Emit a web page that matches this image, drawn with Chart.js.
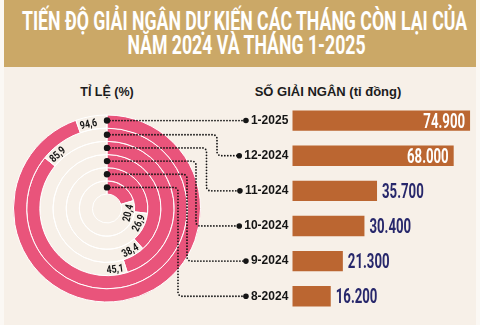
<!DOCTYPE html>
<html><head><meta charset="utf-8">
<script src="https://cdn.jsdelivr.net/npm/chart.js@4.4.1/dist/chart.umd.min.js"></script>
<style>
html,body{margin:0;padding:0;width:480px;height:325px;overflow:hidden;background:#fbf8f4;}
#panel{position:absolute;left:4px;top:0;width:472px;height:325px;background:#f7f0e8;}
#title{position:absolute;left:4px;top:0;width:472px;height:67px;background:#cba867;overflow:hidden}
.tl{position:absolute;left:0;width:472px;height:25px;color:#fff;font:700 25px Roboto,sans-serif;white-space:nowrap;line-height:25px}
.tl span{position:absolute;left:50%;top:0;display:inline-block;transform-origin:center;white-space:nowrap}
.hd{position:absolute;font:700 13px "Liberation Sans",Arial,sans-serif;color:#1c1c1c;white-space:nowrap;transform:translateX(-50%)}
.wrap{position:absolute;left:0;top:0}
</style></head>
<body>
<div id="panel"></div>
<div id="title">
 <div class="tl" style="top:8.5px"><span id="t1">TIẾN ĐỘ GIẢI NGÂN DỰ KIẾN CÁC THÁNG CÒN LẠI CỦA</span></div>
 <div class="tl" style="top:33px"><span id="t2">NĂM 2024 VÀ THÁNG 1-2025</span></div>
</div>
<div class="hd" style="left:107px;top:84.5px;font-size:12.5px">TỈ LỆ (%)</div>
<div class="hd" style="left:328px;top:84px">SỐ GIẢI NGÂN (tỉ đồng)</div>
<div class="wrap" style="width:214px;height:325px"><canvas id="donut"></canvas></div>
<div class="wrap" style="width:480px;height:325px"><canvas id="bars"></canvas></div>
<script>
// ---- data ----
const months = ['1-2025','12-2024','11-2024','10-2024','9-2024','8-2024'];
const amounts = [74.9, 68.0, 35.7, 30.4, 21.3, 16.2];
const amountLabels = ['74.900','68.000','35.700','30.400','21.300','16.200'];
const rates = [94.6, 85.9, 45.1, 38.4, 26.9, 20.4];
const rateLabels = ['94,6','85,9','45,1','38,4','26,9','20,4'];

// ---- styles ----
const PINK = '#e9547b', BAR = '#bb6631', NAVY = '#27276b', INK = '#151515';

// title condensing
(function(){
  const t1 = document.getElementById('t1'), t2 = document.getElementById('t2');
  const s = 445 / t1.offsetWidth;
  t1.style.transform = 'translateX(calc(-50% + 4.5px)) scaleX(' + s + ')';
  t2.style.transform = 'translateX(calc(-50% + 6.5px)) scaleX(' + s + ')';
})();

const ringLabelPlugin = {
  id: 'ringLabels',
  afterDatasetsDraw(chart) {
    const ctx = chart.ctx, sx = 0.8;
    ctx.save();
    ctx.font = 'bold 11px Roboto';
    ctx.fillStyle = INK;
    ctx.textAlign = 'center';
    ctx.textBaseline = 'alphabetic';
    rateLabels.forEach((t, i) => {
      const el = chart.getDatasetMeta(i).data[0];
      const r = (el.innerRadius + el.outerRadius) / 2;
      const w = ctx.measureText(t).width * sx;
      const a = el.endAngle + (2 + w / 2) / r;
      const x = el.x + r * Math.cos(a), y = el.y + r * Math.sin(a);
      let rot = a + Math.PI / 2;
      let th = ((rot % (2 * Math.PI)) + 2 * Math.PI) % (2 * Math.PI);
      if (th > Math.PI / 2 && th < 3 * Math.PI / 2) rot += Math.PI;
      ctx.save();
      ctx.translate(x, y);
      ctx.rotate(rot);
      ctx.scale(sx, 1);
      ctx.fillText(t, 0, 3.9);
      ctx.restore();
    });
    ctx.restore();
  }
};

const donut = new Chart(document.getElementById('donut'), {
  type: 'doughnut',
  data: {
    labels: ['Tỉ lệ', 'Còn lại'],
    datasets: rates.map((v, i) => ({
      label: months[i],
      data: [v, 100 - v],
      backgroundColor: [PINK, 'rgba(0,0,0,0)'],
      borderColor: '#ffffff',
      borderWidth: 1
    }))
  },
  options: {
    responsive: true, maintainAspectRatio: false, animation: false, events: [],
    radius: 93.5, cutout: '15.5%',
    layout: { padding: { top: 92 } },
    plugins: { legend: { display: false }, tooltip: { enabled: false } }
  },
  plugins: [ringLabelPlugin]
});

const TICK_FONT = 'bold 12px "Liberation Sans", Arial';
const connectorX = [null, 217, 206.5, 196, 187, 178];

const barPlugin = {
  id: 'barExtras',
  afterDatasetsDraw(chart) {
    const ctx = chart.ctx;
    const meta = chart.getDatasetMeta(0);
    const yScale = chart.scales.y;
    // value labels
    const sx = 0.66;
    ctx.save();
    ctx.font = 'bold 20px Roboto';
    meta.data.forEach((bar, i) => {
      const inside = amounts[i] >= 50;
      ctx.save();
      ctx.fillStyle = inside ? '#ffffff' : NAVY;
      ctx.textAlign = inside ? 'right' : 'left';
      ctx.translate(inside ? bar.x - 5 : bar.x + 5, bar.y + 7.1);
      ctx.scale(sx, 1);
      ctx.fillText(amountLabels[i], 0, 0);
      ctx.restore();
    });
    ctx.restore();

    // connectors
    ctx.save();
    ctx.font = TICK_FONT;
    months.forEach((m, i) => {
      const el = donut.getDatasetMeta(i).data[0];
      const r = (el.innerRadius + el.outerRadius) / 2;
      const cx = el.x, ry = el.y - r;
      const ly = yScale.getPixelForValue(i);
      const tw = ctx.measureText(m).width;
      const dotX = chart.chartArea.left - 4 - tw - 5;
      ctx.beginPath();
      ctx.setLineDash([0, 3]);
      ctx.lineCap = 'round';
      ctx.lineWidth = 1.8;
      ctx.strokeStyle = INK;
      if (connectorX[i] === null) {
        ctx.moveTo(cx, ly);
        ctx.lineTo(dotX, ly);
      } else {
        const vx = connectorX[i];
        ctx.moveTo(cx, ry);
        ctx.arcTo(vx, ry, vx, ly, 4);
        ctx.arcTo(vx, ly, dotX, ly, 4);
        ctx.lineTo(dotX, ly);
      }
      ctx.stroke();
      ctx.setLineDash([]);
      ctx.fillStyle = INK;
      ctx.beginPath(); ctx.arc(cx, connectorX[i] === null ? ly : ry, 3.2, 0, Math.PI * 2); ctx.fill();
      ctx.beginPath(); ctx.arc(dotX, ly, 2.8, 0, Math.PI * 2); ctx.fill();
    });
    ctx.restore();
  }
};

new Chart(document.getElementById('bars'), {
  type: 'bar',
  data: {
    labels: months,
    datasets: [{ label: 'Số giải ngân (tỉ đồng)', data: amounts, backgroundColor: BAR, borderWidth: 0, barPercentage: 0.58, categoryPercentage: 1 }]
  },
  options: {
    indexAxis: 'y', responsive: true, maintainAspectRatio: false, animation: false, events: [],
    layout: { padding: { left: 237.3, right: 0.2, top: 103, bottom: 4 } },
    plugins: { legend: { display: false }, tooltip: { enabled: false } },
    scales: {
      x: { min: 0, max: 79, display: false },
      y: {
        grid: { display: false, drawTicks: false }, border: { display: false },
        ticks: { color: INK, font: { family: '"Liberation Sans", Arial', weight: 'bold', size: 12 }, padding: 4 },
        afterFit: s => { s.width = 55; }
      }
    }
  },
  plugins: [barPlugin]
});
</script>
</body></html>
